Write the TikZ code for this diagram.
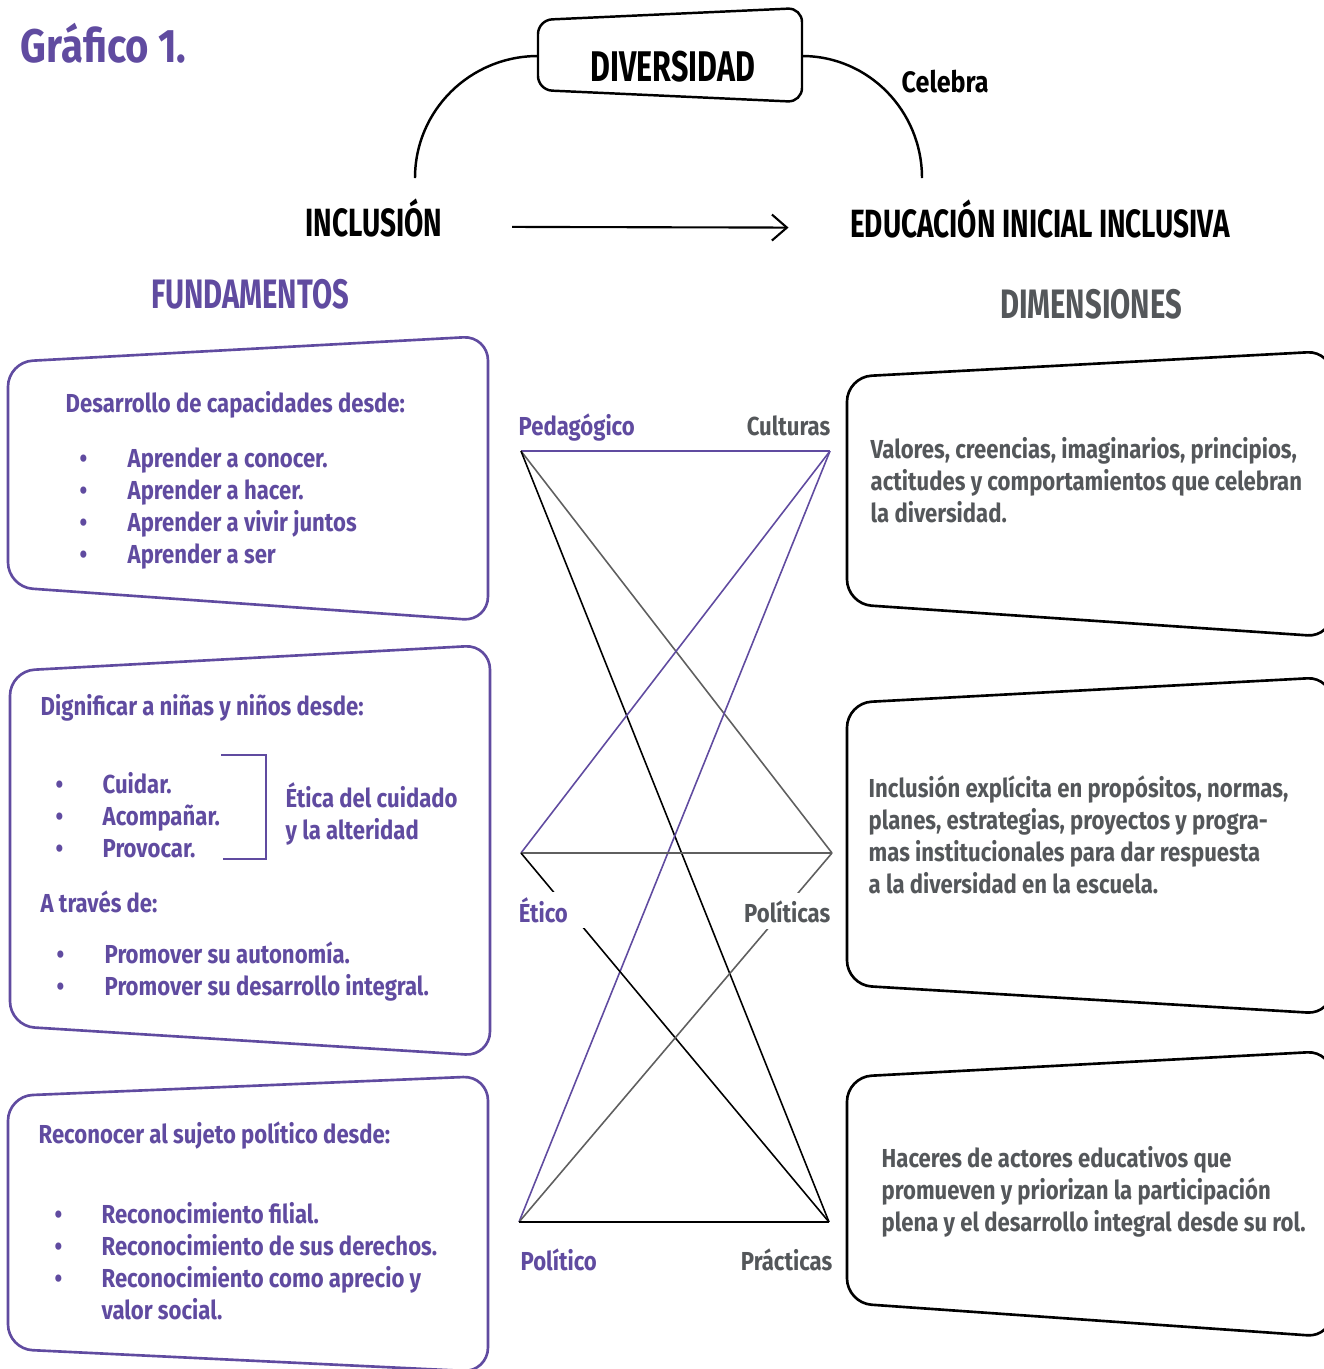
\documentclass[tikz,border=0pt]{standalone}
\usepackage{fontspec}
\setmainfont{Fira Sans}[FakeStretch=0.85]
\newfontfamily\hdfamily{Fira Sans}[FakeStretch=0.71]
\usepackage{xcolor}
\usepackage{tikz}
\usetikzlibrary{arrows.meta,positioning}

\definecolor{morado}{RGB}{96,75,160}
\definecolor{gris}{RGB}{84,87,90}
\definecolor{lineagris}{RGB}{95,95,95}
\newcommand{\txtfont}{\fontsize{7.4}{9.1}\selectfont\bfseries}
\newcommand{\hdfont}{\hdfamily\fontsize{11.2}{13}\selectfont\bfseries}

\begin{document}
\begin{tikzpicture}[
    x=0.01cm, y=-0.01cm,
    every node/.style={inner sep=0pt},
    lbox/.style={draw=morado, line width=0.75pt, rounded corners=7pt},
    rbox/.style={draw=black, line width=0.75pt, rounded corners=7pt},
    dbox/.style={draw=black, line width=0.7pt, rounded corners=4pt},
    ptxt/.style={text=morado, font=\txtfont, anchor=base west, align=left},
    gtxt/.style={text=gris, font=\txtfont, anchor=base west, align=left},
    title/.style={font=\hdfont, anchor=base},
    bigtitle/.style={font=\hdfamily\fontsize{11.7}{13}\selectfont\bfseries, anchor=base},
    lnk/.style={line width=0.45pt},
    arc/.style={line width=0.7pt},
    arr/.style={-{Straight Barb[length=1.5mm,width=2.6mm]}, line width=0.6pt}
]
    \useasboundingbox (0,0) rectangle (1324,1369);
    \clip (0,0) rectangle (1324,1369);

    % Title
    \node[text=morado, font=\fontsize{13.4}{15}\selectfont\bfseries, anchor=base west] (graf) at (20,62) {Gráfico 1.};

    % Top: diversidad, inclusion, educacion
    \draw[dbox] (538,20) -- (802,8) -- (802,102) -- (538,90) -- cycle;
    \node[bigtitle, font=\hdfamily\fontsize{12.2}{13}\selectfont\bfseries] (div) at (673,81) {DIVERSIDAD};
    \coordinate (divL) at (538,56);
    \coordinate (divR) at (802,56);
    \node[title] (inc) at (374,236) {INCLUSIÓN};
    \node[title] (edu) at (1040,237) {EDUCACIÓN INICIAL INCLUSIVA};
    \coordinate (incTop) at (415,178);
    \coordinate (eduTop) at (922,178);
    \draw[arc] (divL) to[out=180, in=90] (incTop);
    \draw[arc] (divR) to[out=0, in=90] (eduTop);
    \node[font=\fontsize{8.4}{10}\selectfont\bfseries, anchor=base west] (cel) at (901,92) {Celebra};
    \draw[arr] (inc.mid east) -- (edu.mid west) [shorten <=0.69cm, shorten >=0.61cm];

    % Column headings
    \node[bigtitle, text=morado] (fund) at (250,308) {FUNDAMENTOS};
    \node[bigtitle, text=gris] (dims) at (1091,318) {DIMENSIONES};

    % Fundamentos boxes (multi-line nodes sit on their last baseline)
    \draw[lbox] (8,362) -- (488,336) -- (488,621) -- (8,587) -- cycle;
    \node[ptxt] (f1head) at (65,412) {Desarrollo de capacidades desde:};
    \node[ptxt] (f1bul) at (79,563) {•\\•\\•\\•};
    \node[ptxt] (f1list) at (127,563) {Aprender a conocer.\\Aprender a hacer.\\Aprender a vivir juntos\\Aprender a ser};

    \draw[lbox] (10,671) -- (490,645) -- (490,1056) -- (10,1026) -- cycle;
    \node[ptxt] (f2head) at (40,715) {Dignificar a niñas y niños desde:};
    \node[ptxt] (f2bul) at (55,857) {•\\•\\•};
    \node[ptxt] (f2list) at (102,857) {Cuidar.\\Acompañar.\\Provocar.};
    \draw[morado, lnk] (221,755) -| (266,859) -- (223,859);
    \node[ptxt] (etica) at (285,839) {Ética del cuidado\\y la alteridad};
    \node[ptxt] (traves) at (40,912) {A través de:};
    \node[ptxt] (f2bulb) at (56,995) {•\\•};
    \node[ptxt] (f2listb) at (104,995) {Promover su autonomía.\\Promover su desarrollo integral.};

    \draw[lbox] (8,1096) -- (488,1076) -- (488,1372) -- (8,1349) -- cycle;
    \node[ptxt] (f3head) at (38,1143) {Reconocer al sujeto político desde:};
    \node[ptxt] (f3bul) at (54,1287) {•\\•\\•};
    \node[ptxt] (f3list) at (101,1319) {Reconocimiento filial.\\Reconocimiento de sus derechos.\\Reconocimiento como aprecio y\\valor social.};

    % Dimensiones boxes
    \draw[rbox] (847,377) -- (1332,351) -- (1332,637) -- (847,604) -- cycle;
    \node[gtxt] (d1) at (870,522) {Valores, creencias, imaginarios, principios,\\actitudes y comportamientos que celebran\\la diversidad.};
    \draw[rbox] (847,703) -- (1332,677) -- (1332,1014) -- (847,985) -- cycle;
    \node[gtxt] (d2) at (868,893) {Inclusión explícita en propósitos, normas,\\planes, estrategias, proyectos y progra-\\mas institucionales para dar respuesta\\a la diversidad en la escuela.};
    \draw[rbox] (847,1077) -- (1332,1051) -- (1332,1337) -- (847,1303) -- cycle;
    \node[gtxt] (d3) at (881,1231) {Haceres de actores educativos que\\promueven y priorizan la participación\\plena y el desarrollo integral desde su rol.};

    % Cross links
    \coordinate (ped) at (521,451);
    \coordinate (cul) at (830,451);
    \coordinate (eti) at (521,853);
    \coordinate (pols) at (832,853);
    \coordinate (polo) at (519,1222);
    \coordinate (prac) at (829,1222);
    \draw[lnk, morado] (ped) -- (cul);
    \draw[lnk, lineagris] (ped) -- (pols);
    \draw[lnk, black] (ped) -- (prac);
    \draw[lnk, morado] (cul) -- (eti);
    \draw[lnk, morado] (cul) -- (polo);
    \draw[lnk, lineagris] (eti) -- (pols);
    \draw[lnk, black] (eti) -- (prac);
    \draw[lnk, lineagris] (pols) -- (polo);
    \draw[lnk, black] (polo) -- (prac);

    \node[ptxt] (lped) at (518,435) {Pedagógico};
    \node[gtxt, anchor=base east] (lcul) at (831,435) {Culturas};
    \node[ptxt, fill=white, inner xsep=6pt, inner ysep=1.5pt] (leti) at (497,922) {Ético};
    \node[gtxt, anchor=base east, fill=white, inner ysep=2pt] (lpols) at (831,922) {Políticas};
    \node[ptxt] (lpolo) at (520,1270) {Político};
    \node[gtxt, anchor=base east] (lprac) at (833,1270) {Prácticas};
\end{tikzpicture}
\end{document}
